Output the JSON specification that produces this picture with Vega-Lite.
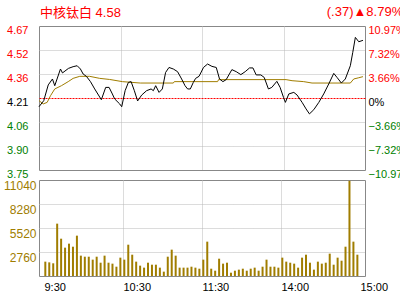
{
  "$schema": "https://vega.github.io/schema/vega-lite/v6.json",
  "background": "white",
  "padding": {"left": 3, "top": 6, "right": 0, "bottom": 0},
  "bounds": "flush",
  "config": {
    "view": {"stroke": "#888888", "strokeWidth": 1},
    "font": "Liberation Sans",
    "axis": {
      "domain": false,
      "ticks": false,
      "title": null,
      "labelFont": "Liberation Sans",
      "labelFontSize": 11,
      "labelFlush": false,
      "labelOverlap": false,
      "gridColor": "#b8b8b8",
      "gridDash": [1, 1]
    }
  },
  "title": {
    "text": "(.37)▲8.79%",
    "anchor": "end",
    "frame": "bounds",
    "color": "#ff0000",
    "font": "Liberation Sans, DejaVu Sans, Noto Sans CJK SC",
    "fontSize": 13,
    "fontWeight": "normal",
    "offset": -13,
    "dx": -9
  },
  "datasets": {
    "price": [
      {"minute": 0, "price": 4.154}, {"minute": 3.5, "price": 4.193}, {"minute": 6.8, "price": 4.294},
      {"minute": 9.9, "price": 4.332}, {"minute": 11.6, "price": 4.289}, {"minute": 15.8, "price": 4.396},
      {"minute": 17.3, "price": 4.371}, {"minute": 21.7, "price": 4.4}, {"minute": 25.1, "price": 4.411},
      {"minute": 28.1, "price": 4.417}, {"minute": 30.5, "price": 4.396}, {"minute": 32.5, "price": 4.364},
      {"minute": 34.9, "price": 4.349}, {"minute": 37.9, "price": 4.315}, {"minute": 41.0, "price": 4.268},
      {"minute": 45.9, "price": 4.199}, {"minute": 49.1, "price": 4.278}, {"minute": 51.6, "price": 4.278},
      {"minute": 54.0, "price": 4.236}, {"minute": 55.7, "price": 4.204}, {"minute": 59.4, "price": 4.172},
      {"minute": 60.9, "price": 4.154}, {"minute": 63.4, "price": 4.257}, {"minute": 65.8, "price": 4.31},
      {"minute": 67.8, "price": 4.315}, {"minute": 70.2, "price": 4.257}, {"minute": 72.6, "price": 4.191},
      {"minute": 75.6, "price": 4.229}, {"minute": 79.2, "price": 4.257}, {"minute": 82.5, "price": 4.268},
      {"minute": 84.2, "price": 4.257}, {"minute": 85.9, "price": 4.289}, {"minute": 88.4, "price": 4.246},
      {"minute": 90.8, "price": 4.268}, {"minute": 93.2, "price": 4.374}, {"minute": 95.7, "price": 4.406},
      {"minute": 98.9, "price": 4.396}, {"minute": 102.0, "price": 4.379}, {"minute": 105.0, "price": 4.332},
      {"minute": 107.5, "price": 4.289}, {"minute": 109.4, "price": 4.268}, {"minute": 111.4, "price": 4.268},
      {"minute": 113.6, "price": 4.31}, {"minute": 115.3, "price": 4.336}, {"minute": 117.8, "price": 4.349},
      {"minute": 118.7, "price": 4.364}, {"minute": 121.1, "price": 4.406}, {"minute": 124.1, "price": 4.428},
      {"minute": 127.3, "price": 4.413}, {"minute": 130.5, "price": 4.406}, {"minute": 132.9, "price": 4.332},
      {"minute": 135.4, "price": 4.315}, {"minute": 137.8, "price": 4.328}, {"minute": 142.0, "price": 4.392},
      {"minute": 145.2, "price": 4.379}, {"minute": 148.6, "price": 4.36}, {"minute": 151.8, "price": 4.379},
      {"minute": 155.0, "price": 4.403}, {"minute": 157.5, "price": 4.403}, {"minute": 159.9, "price": 4.358},
      {"minute": 163.3, "price": 4.358}, {"minute": 165.8, "price": 4.342}, {"minute": 168.9, "price": 4.268},
      {"minute": 171.4, "price": 4.278}, {"minute": 175.1, "price": 4.317}, {"minute": 177.5, "price": 4.278},
      {"minute": 180.0, "price": 4.214}, {"minute": 181.4, "price": 4.182}, {"minute": 183.9, "price": 4.236},
      {"minute": 187.6, "price": 4.246}, {"minute": 190.0, "price": 4.229}, {"minute": 193.7, "price": 4.182},
      {"minute": 196.6, "price": 4.14}, {"minute": 199.1, "price": 4.108}, {"minute": 202.3, "price": 4.135},
      {"minute": 206.0, "price": 4.182}, {"minute": 209.6, "price": 4.236}, {"minute": 213.3, "price": 4.3},
      {"minute": 217.0, "price": 4.368}, {"minute": 219.4, "price": 4.342}, {"minute": 222.6, "price": 4.306},
      {"minute": 225.5, "price": 4.332}, {"minute": 229.2, "price": 4.417}, {"minute": 231.0, "price": 4.503},
      {"minute": 232.9, "price": 4.599}, {"minute": 235.4, "price": 4.571}, {"minute": 238.5, "price": 4.58}
    ],
    "avg": [
      {"minute": 0, "avg": 4.193}, {"minute": 3.1, "avg": 4.172}, {"minute": 6.0, "avg": 4.182},
      {"minute": 8.5, "avg": 4.225}, {"minute": 11.6, "avg": 4.268}, {"minute": 16.5, "avg": 4.289},
      {"minute": 21.5, "avg": 4.315}, {"minute": 25.1, "avg": 4.336}, {"minute": 30.0, "avg": 4.349},
      {"minute": 37.3, "avg": 4.349}, {"minute": 44.7, "avg": 4.336}, {"minute": 52.0, "avg": 4.329},
      {"minute": 61.4, "avg": 4.315}, {"minute": 74.6, "avg": 4.306}, {"minute": 98.9, "avg": 4.306},
      {"minute": 99.6, "avg": 4.315}, {"minute": 131.5, "avg": 4.315}, {"minute": 132.2, "avg": 4.328},
      {"minute": 181.9, "avg": 4.328}, {"minute": 186.3, "avg": 4.321}, {"minute": 194.9, "avg": 4.315},
      {"minute": 201.0, "avg": 4.306}, {"minute": 229.2, "avg": 4.306}, {"minute": 231.7, "avg": 4.332},
      {"minute": 235.4, "avg": 4.34}, {"minute": 238.5, "avg": 4.347}
    ],
    "vol": [
      {"minute": 1, "vol": 1650}, {"minute": 4, "vol": 1570}, {"minute": 7, "vol": 1460}, {"minute": 10, "vol": 6020},
      {"minute": 13, "vol": 4290}, {"minute": 16, "vol": 3260}, {"minute": 19, "vol": 3720}, {"minute": 22, "vol": 3370},
      {"minute": 25, "vol": 4640}, {"minute": 28, "vol": 2340}, {"minute": 31, "vol": 2220}, {"minute": 34, "vol": 2220},
      {"minute": 37, "vol": 1880}, {"minute": 40, "vol": 2220}, {"minute": 43, "vol": 1530}, {"minute": 46, "vol": 2340},
      {"minute": 49, "vol": 1530}, {"minute": 52, "vol": 1420}, {"minute": 55, "vol": 1070}, {"minute": 58, "vol": 2110},
      {"minute": 61, "vol": 1880}, {"minute": 64, "vol": 3600}, {"minute": 67, "vol": 2450}, {"minute": 70, "vol": 1650},
      {"minute": 73, "vol": 1190}, {"minute": 76, "vol": 960}, {"minute": 79, "vol": 1530}, {"minute": 82, "vol": 1300},
      {"minute": 85, "vol": 1300}, {"minute": 88, "vol": 960}, {"minute": 91, "vol": 500}, {"minute": 94, "vol": 2220},
      {"minute": 97, "vol": 3030}, {"minute": 100, "vol": 2340}, {"minute": 103, "vol": 960}, {"minute": 106, "vol": 960},
      {"minute": 109, "vol": 960}, {"minute": 112, "vol": 1070}, {"minute": 115, "vol": 960}, {"minute": 118, "vol": 840},
      {"minute": 121, "vol": 1880}, {"minute": 124, "vol": 3950}, {"minute": 127, "vol": 840}, {"minute": 130, "vol": 610},
      {"minute": 133, "vol": 1990}, {"minute": 136, "vol": 1420}, {"minute": 139, "vol": 1530}, {"minute": 142, "vol": 380},
      {"minute": 145, "vol": 610}, {"minute": 148, "vol": 730}, {"minute": 151, "vol": 840}, {"minute": 154, "vol": 610},
      {"minute": 157, "vol": 840}, {"minute": 160, "vol": 960}, {"minute": 163, "vol": 610}, {"minute": 166, "vol": 1070},
      {"minute": 169, "vol": 1880}, {"minute": 172, "vol": 1070}, {"minute": 175, "vol": 1070}, {"minute": 178, "vol": 960},
      {"minute": 181, "vol": 2110}, {"minute": 184, "vol": 1650}, {"minute": 187, "vol": 1530}, {"minute": 190, "vol": 1420},
      {"minute": 193, "vol": 960}, {"minute": 196, "vol": 2110}, {"minute": 199, "vol": 2450}, {"minute": 202, "vol": 1530},
      {"minute": 205, "vol": 730}, {"minute": 208, "vol": 1650}, {"minute": 211, "vol": 1420}, {"minute": 214, "vol": 1530},
      {"minute": 217, "vol": 2570}, {"minute": 220, "vol": 1300}, {"minute": 223, "vol": 2110}, {"minute": 226, "vol": 1760},
      {"minute": 229, "vol": 3370}, {"minute": 232, "vol": 10950}, {"minute": 235, "vol": 3950}, {"minute": 238, "vol": 2450}
    ]
  },
  "spacing": 10,
  "vconcat": [
    {
      "width": 326,
      "height": 144,
      "title": {
        "text": "中核钛白 4.58",
        "anchor": "start",
        "frame": "group",
        "color": "#ff0000",
        "font": "Liberation Sans, Noto Sans CJK SC",
        "fontSize": 13,
        "fontWeight": "normal",
        "offset": 4.5,
        "dx": 1
      },
      "layer": [
        {
          "data": {"name": "avg"},
          "mark": {"type": "line", "color": "#a07d00", "strokeWidth": 1},
          "encoding": {
            "x": {
              "field": "minute", "type": "quantitative",
              "scale": {"domain": [0, 240], "nice": false},
              "axis": {"values": [60, 120, 180], "labels": false, "grid": true}
            },
            "y": {
              "field": "avg", "type": "quantitative",
              "scale": {"domain": [3.748, 4.672], "nice": false, "zero": false},
              "axis": {
                "orient": "left",
                "values": [3.748, 3.902, 4.056, 4.21, 4.364, 4.518, 4.672],
                "format": ".2f",
                "labelPadding": 11,
                "labelBaseline": "middle",
                "labelOffset": 4,
                "grid": true,
                "gridColor": {"condition": {"test": "abs(datum.value - 4.21) < 0.001", "value": "#ff0000"}, "value": "#b8b8b8"},
                "gridDash": {"condition": {"test": "abs(datum.value - 4.21) < 0.001", "value": [2, 1]}, "value": [1, 1]},
                "gridOpacity": {"condition": {"test": "datum.value > 4.67 || datum.value < 3.75", "value": 0}, "value": 1},
                "labelColor": {
                  "condition": [
                    {"test": "datum.value > 4.22", "value": "#ff0000"},
                    {"test": "datum.value < 4.2", "value": "#008000"}
                  ],
                  "value": "#000000"
                }
              }
            }
          }
        },
        {
          "data": {"name": "price"},
          "mark": {"type": "line", "color": "#000000", "strokeWidth": 1},
          "encoding": {
            "x": {
              "field": "minute", "type": "quantitative",
              "scale": {"domain": [0, 240], "nice": false},
              "axis": {"values": [60, 120, 180], "labels": false, "grid": true}
            },
            "y": {
              "field": "price", "type": "quantitative",
              "scale": {"domain": [3.748, 4.672], "nice": false, "zero": false},
              "axis": {
                "orient": "right",
                "values": [3.748, 3.902, 4.056, 4.21, 4.364, 4.518, 4.672],
                "labelExpr": "abs(datum.value - 4.21) < 0.001 ? '0%' : format((datum.value - 4.21) / 4.21 * 100, '.2f') + '%'",
                "labelPadding": 3,
                "labelBaseline": "middle",
                "labelOffset": 4,
                "grid": false,
                "labelColor": {
                  "condition": [
                    {"test": "datum.value > 4.22", "value": "#ff0000"},
                    {"test": "datum.value < 4.2", "value": "#008000"}
                  ],
                  "value": "#000000"
                }
              }
            }
          }
        }
      ],
      "resolve": {"axis": {"y": "independent"}}
    },
    {
      "width": 326,
      "height": 96,
      "data": {"name": "vol"},
      "mark": {"type": "bar", "color": "#a07d00", "size": 2},
      "encoding": {
        "x": {
          "field": "minute", "type": "quantitative",
          "scale": {"domain": [0, 240], "nice": false},
          "axis": {
            "values": [0, 60, 120, 180, 240],
            "labelExpr": "datum.value == 0 ? '9:30' : datum.value == 60 ? '10:30' : datum.value == 120 ? '11:30' : datum.value == 180 ? '14:00' : '15:00'",
            "labelAlign": "left",
            "labelPadding": 5,
            "labelColor": "#000000",
            "grid": true,
            "gridOpacity": {"condition": {"test": "datum.value == 0 || datum.value == 240", "value": 0}, "value": 1}
          }
        },
        "y": {
          "field": "vol", "type": "quantitative",
          "scale": {"domain": [0, 11040], "nice": false},
          "axis": {
            "values": [2760, 5520, 8280, 11040],
            "format": "d",
            "labelColor": "#a07d00",
            "labelFontSize": 12,
            "labelPadding": 3,
            "labelBaseline": "middle",
            "labelOffset": 5,
            "grid": true,
            "gridOpacity": {"condition": {"test": "datum.value > 11000", "value": 0}, "value": 1}
          }
        }
      }
    }
  ]
}
